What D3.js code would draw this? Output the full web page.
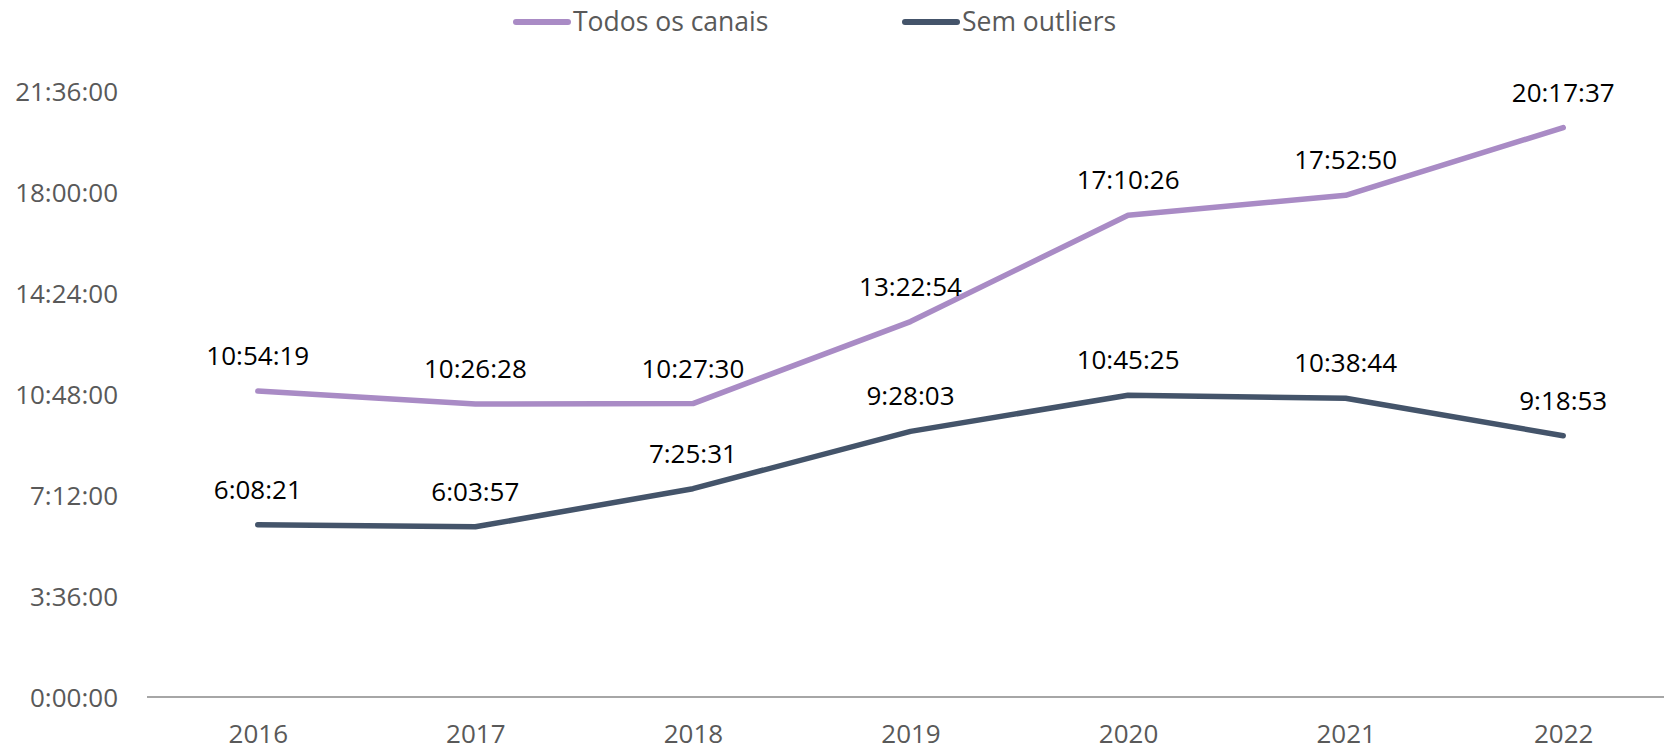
<!DOCTYPE html>
<html>
<head>
<meta charset="utf-8">
<script src="https://cdn.jsdelivr.net/npm/d3@7"></script>
<style>
  html, body { margin: 0; padding: 0; background: #ffffff; }
  svg { display: block; font-family: "Open Sans", "Noto Sans", sans-serif; }
</style>
</head>
<body>
<svg id="chart" width="1664" height="750"></svg>
<script>
// Average duration per year, as h:mm:ss
const years = ["2016", "2017", "2018", "2019", "2020", "2021", "2022"];
const todosOsCanais = ["10:54:19", "10:26:28", "10:27:30", "13:22:54", "17:10:26", "17:52:50", "20:17:37"];
const semOutliers = ["6:08:21", "6:03:57", "7:25:31", "9:28:03", "10:45:25", "10:38:44", "9:18:53"];
const yTickLabels = ["0:00:00", "3:36:00", "7:12:00", "10:48:00", "14:24:00", "18:00:00", "21:36:00"];
const seriesNames = ["Todos os canais", "Sem outliers"];
const seriesColors = ["#a98bc5", "#44546a"];

// "h:mm:ss" -> hours
function toHours(s) {
  const [h, m, sec] = s.split(":").map(Number);
  return h + m / 60 + sec / 3600;
}

const svg = d3.select("#chart");
const W = 1664, H = 750;
const plotTop = 91, plotBottom = 697;
const axisLeft = 147;
const fontSize = "26px";

const x = d3.scalePoint().domain(years).range([149, 1672]).padding(0.5);
const yMax = toHours(yTickLabels[yTickLabels.length - 1]);
const y = d3.scaleLinear().domain([0, yMax]).range([plotBottom, plotTop]);

// Y axis: labels only
const yAxis = d3.axisLeft(y)
  .tickValues(yTickLabels.map(toHours))
  .tickFormat((d, i) => yTickLabels[i])
  .tickSize(0)
  .tickPadding(0);
const gy = svg.append("g").attr("transform", "translate(118,0)").call(yAxis);
gy.select(".domain").remove();
gy.selectAll("text")
  .attr("fill", "#595959")
  .style("font-size", fontSize)
  .style("font-family", "'Open Sans', sans-serif")
  .attr("dy", "0.35em");

// X axis: category baseline and year labels
const xAxis = d3.axisBottom(x).tickSize(0).tickPadding(0);
const gx = svg.append("g").attr("transform", `translate(0,${plotBottom})`).call(xAxis);
gx.select(".domain").remove();
gx.append("line")
  .attr("x1", axisLeft).attr("x2", W)
  .attr("y1", 0).attr("y2", 0)
  .attr("stroke", "#a6a6a6").attr("stroke-width", 2);
gx.selectAll(".tick text")
  .attr("fill", "#595959")
  .attr("y", 46)
  .attr("dy", 0)
  .style("font-size", fontSize)
  .style("font-family", "'Open Sans', sans-serif");

// Lines and value labels
const series = [todosOsCanais, semOutliers];
const line = d3.line()
  .x((d, i) => x(years[i]))
  .y(d => y(toHours(d)));

series.forEach((vals, si) => {
  svg.append("path")
    .datum(vals)
    .attr("d", line)
    .attr("fill", "none")
    .attr("stroke", seriesColors[si])
    .attr("stroke-width", 5.5)
    .attr("stroke-linecap", "round")
    .attr("stroke-linejoin", "round");

  svg.append("g").selectAll("text")
    .data(vals)
    .join("text")
    .attr("x", (d, i) => x(years[i]))
    .attr("y", d => y(toHours(d)) - 26)
    .attr("text-anchor", "middle")
    .attr("fill", "#000000")
    .style("font-size", fontSize)
    .text(d => d);
});

// Legend
const legendX = [513, 902];
const legend = svg.append("g");
seriesNames.forEach((name, i) => {
  const g = legend.append("g").attr("transform", `translate(${legendX[i]},22)`);
  g.append("line")
    .attr("x1", 3).attr("x2", 55)
    .attr("y1", 0).attr("y2", 0)
    .attr("stroke", seriesColors[i])
    .attr("stroke-width", 6)
    .attr("stroke-linecap", "round");
  g.append("text")
    .attr("x", 60)
    .attr("y", 0)
    .attr("dy", "0.35em")
    .attr("fill", "#595959")
    .style("font-size", "26.5px")
    .text(name);
});
</script>
</body>
</html>
